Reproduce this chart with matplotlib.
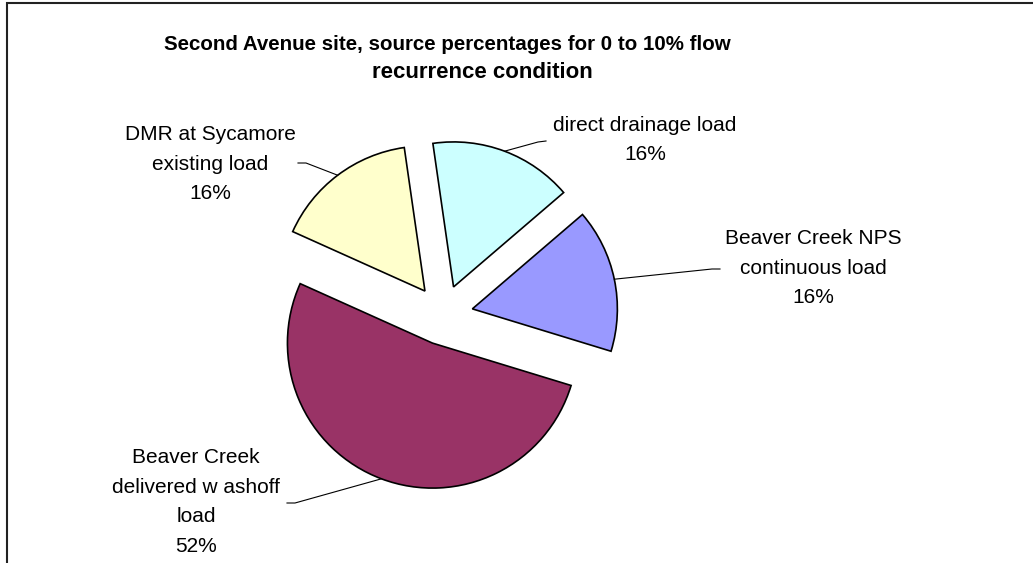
import matplotlib.pyplot as plt
import numpy as np

# source shares (percent), listed clockwise starting from the upper-left slice
sources = ['DMR at Sycamore\nexisting load',
           'direct drainage load',
           'Beaver Creek NPS\ncontinuous load',
           'Beaver Creek\ndelivered w ashoff\nload']
shares = [16, 16, 16, 52]
colors = ['#FFFFCC', '#CCFFFF', '#9999FF', '#993366']

W, H = 1033, 563
plt.rcParams['font.family'] = ['Liberation Sans', 'DejaVu Sans']

fig = plt.figure(figsize=(W / 100, H / 100), dpi=100)
ax = fig.add_axes([0, 0, 1, 1])


def py(y):
    # pixel row (from top) -> data y
    return H - y


wedges, _ = ax.pie(shares, colors=colors, startangle=155.8, counterclock=False,
                   center=(443, py(315)), radius=145, explode=[30] * 4,
                   wedgeprops=dict(edgecolor='black', linewidth=1.2))
ax.set_xlim(0, W)
ax.set_ylim(0, H)
ax.axis('off')

# label block centre, and leader end (stub start, stub end) per slice
label_pos = [(210, 164), (645, 140), (813, 268), (196, 502)]
stubs = [((306, 163), (298, 163)),
         ((538, 142), (546, 141)),
         ((712, 269), (720, 269)),
         ((295, 503), (287, 503))]

for w, name, pct, (lx, ly), (s0, s1) in zip(wedges, sources, shares, label_pos, stubs):
    mid = np.deg2rad((w.theta1 + w.theta2) / 2)
    ax_, ay_ = w.center[0] + w.r * np.cos(mid), w.center[1] + w.r * np.sin(mid)
    ax.plot([ax_, s0[0], s1[0]], [ay_, py(s0[1]), py(s1[1])], color='black', lw=0.8)
    ax.text(lx, py(ly), f'{name}\n{pct}%', ha='center', va='center',
            fontsize=15, linespacing=1.71, color='black')

ax.text(447, py(45), 'Second Avenue site, source percentages for 0 to 10% flow',
        ha='center', va='center', fontsize=14.8, fontweight='bold')
ax.text(482, py(73), 'recurrence condition',
        ha='center', va='center', fontsize=16, fontweight='bold')

# chart area border (top and left edges are inside the frame)
ax.plot([7, 7, W], [0, py(3), py(3)], color='#222222', lw=1.5, solid_joinstyle='miter')

fig.savefig('out.png', dpi=100)
